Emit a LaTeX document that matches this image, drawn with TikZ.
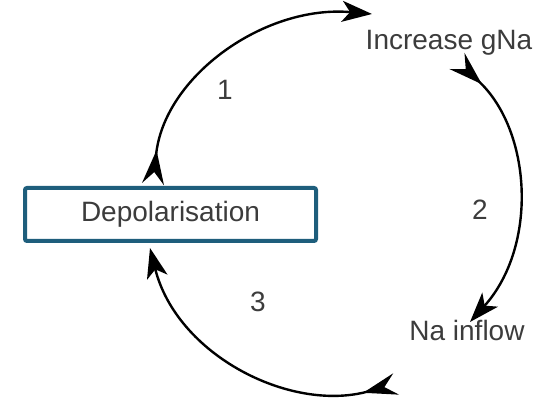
\documentclass[tikz,border=0pt]{standalone}
\usepackage{fontspec}
\setmainfont{Liberation Sans}
\usetikzlibrary{arrows.meta}
\definecolor{boxblue}{RGB}{30,94,124}
\definecolor{txtgray}{RGB}{60,60,60}

\begin{document}
\begin{tikzpicture}[x=1pt,y=1pt,
  main node/.style={text=txtgray,font=\fontsize{28}{33}\selectfont},
  box node/.style={main node,draw=boxblue,line width=4pt,rounded corners=2pt,
    minimum width=291pt,minimum height=53pt,fill=white},
  cycle arrow/.style={line width=2.4pt,
    arrows={Stealth[reversed,length=34pt,width=22pt,inset=12pt]-Stealth[length=30pt,width=21pt,inset=8pt]}}]

  \useasboundingbox (0,0) rectangle (547,398);

  \node[box node] (dep) at (170.5,183.5) {Depolarisation};
  \node[main node] (gna) at (449,355) {Increase gNa};
  \node[main node] (inflow) at (467,68) {Na inflow};

  \node[main node] (n1) at (225,308) {1};
  \node[main node] (n2) at (480,188) {2};
  \node[main node] (n3) at (258,96) {3};

  % ends of the three arcs
  \coordinate (a1s) at (153,214);
  \coordinate (a1e) at (372,384);
  \coordinate (a2s) at (457,337);
  \coordinate (a2e) at (470,76);
  \coordinate (a3s) at (396,14);
  \coordinate (a3e) at (150,150);

  \draw[cycle arrow] (a1s) to[out=84,in=175] (a1e);
  \draw[cycle arrow] (a2s) to[out=-43,in=48] (a2e);
  \draw[cycle arrow] (a3s) to[out=-165,in=-76] (a3e);
\end{tikzpicture}
\end{document}
